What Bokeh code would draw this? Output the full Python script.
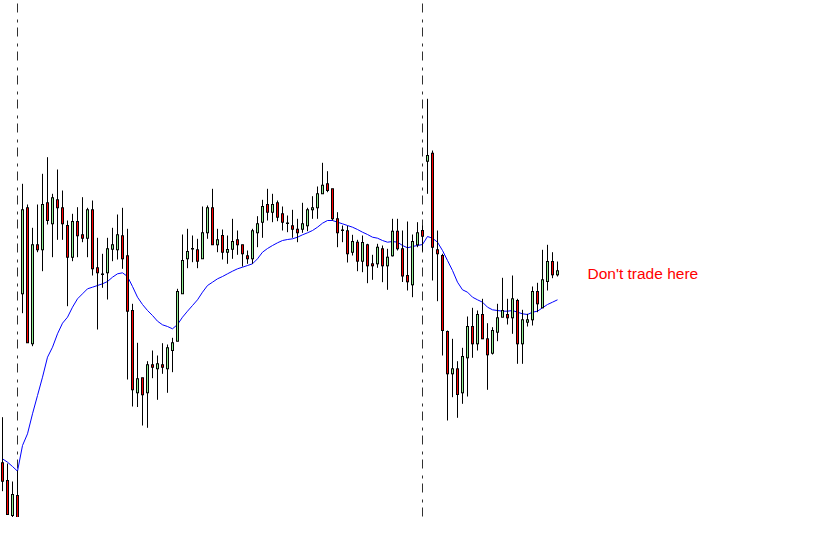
from bokeh.plotting import figure
from bokeh.models import ColumnDataSource, Range1d, Label
from bokeh.embed import file_html
from bokeh.resources import INLINE

# ---- data (price units) ----
opens = [70.7, 53, 18, 38, 239.7, 325.7, 189.7, 288.7, 283.7, 330.7,
         309.7, 333.7, 325.7, 308, 276.3, 312, 298.7, 295.3, 323.7, 265.7,
         259, 260.7, 284.3, 283.7, 297.7, 277.7, 223, 140.7, 155.7, 140.7,
         168.7, 164.7, 168.7, 164.7, 183, 192.3, 239.7, 274.7, 284.5, 283.7,
         274.7, 300.7, 325.7, 288.7, 298, 281.3, 284.3, 293.7, 288.7, 277.7,
         274.7, 300.7, 311.3, 329, 321.3, 330.7, 319.7, 310.5, 307.7, 304.3,
         304.3, 307.7, 323.7, 325.7, 339.7, 349.7, 344.7, 314.7, 303.5, 302.7,
         281.3, 291.3, 272.3, 288.7, 269.7, 269.7, 284.7, 267.7, 277.7, 302.3,
         284.7, 258, 248.7, 288.7, 303, 372.3, 380.3, 283.7, 278, 202,
         159.7, 164.7, 140.7, 175.7, 207, 189.7, 219, 194.7, 180.3, 201.3,
         216.3, 219, 215.7, 233, 189.7, 211.3, 213.7, 242, 225.7, 252,
         272, 258.7]
highs = [116.3, 70, 52, 63, 349.7, 329, 305.7, 329, 359.7, 376.3,
         339.7, 364, 343, 313, 319.7, 326.3, 336.3, 325.7, 333, 295.7,
         279.7, 295.7, 305.7, 319, 325.7, 304.7, 229.7, 190.7, 155.7, 172.3,
         183, 178, 190.3, 189, 195.7, 244.7, 299, 304.7, 298, 294.7,
         327, 328, 344.7, 304.7, 304, 298, 314.7, 303, 288.7, 283,
         304.7, 317.3, 333.7, 344.7, 339.7, 333, 327, 318, 323.7, 314.7,
         330.7, 325.7, 337.3, 347, 370.7, 362.3, 344.7, 321.3, 308, 307.7,
         298.7, 293.7, 298, 289.7, 278.7, 289.7, 288, 284.7, 314.7, 314.7,
         303, 312, 299, 311.3, 308, 434.7, 383, 303, 279.7, 203,
         194.7, 172.3, 185.7, 217, 225.7, 223, 234.7, 210.3, 206.3, 229.7,
         255.7, 234.7, 258, 234.7, 223.7, 219.7, 247, 250.7, 283.7, 288.7,
         281.3, 272]
lows = [42.3, 19, 16, 3, 220.3, 190.7, 187.3, 281.3, 262.3, 309,
        276.3, 293.7, 293.7, 227.3, 272.3, 276.3, 291.3, 276.3, 258, 204,
        245.7, 234, 272.3, 274, 264.7, 154, 127, 126.5, 108, 105.7,
        155.3, 133.7, 159.7, 140.7, 161.3, 192.3, 239.7, 265.3, 271.3, 265.3,
        274.7, 294.7, 288.7, 281.3, 274, 269.7, 274.7, 278.7, 267, 269.7,
        269.7, 286.3, 295.7, 313, 311.3, 312.3, 303, 301.3, 295.7, 291.3,
        300.7, 302.3, 314.7, 314.7, 339.7, 341.3, 313, 286.3, 291.3, 271,
        278, 262.3, 261.3, 250.3, 253.7, 265.7, 251.3, 243.7, 277, 283,
        251.5, 243, 236.3, 286.3, 282.3, 339.7, 253, 232.3, 178, 113,
        136.3, 115.7, 129.7, 137, 175.7, 183, 194.7, 143.7, 179, 192.3,
        216.3, 209, 199.7, 169.7, 169.7, 207, 208, 221.3, 225.7, 243,
        255.3, 257]
closes = [52.3, 19, 39, 15, 323.7, 190.7, 288.7, 283.7, 329, 313,
          335.7, 325.7, 309.7, 276.3, 312, 297.7, 295.3, 323.7, 264.7, 260.7,
          259.5, 284.7, 288.7, 298.7, 274.7, 222.3, 143.7, 154.7, 138.7, 168.7,
          166.3, 169.7, 166.3, 185.7, 190.7, 242, 273, 282, 285, 272.3,
          300.7, 325.7, 288.7, 293.7, 281.3, 284, 292, 288.7, 279.7, 274.7,
          302.7, 309.7, 327, 321.3, 329, 316.3, 311.3, 310, 304.3, 300.7,
          309.7, 323.7, 325.7, 339.7, 348.3, 343, 314.7, 300.7, 303, 279.7,
          292, 272.3, 291, 267.7, 267.7, 286.3, 267.7, 276.3, 302.3, 284.7,
          257.5, 251.7, 292, 300.7, 297.3, 378, 286.3, 279.7, 203, 159.7,
          164.7, 139, 177, 207, 189.7, 219, 194.7, 178.7, 203, 215.7,
          223, 215.7, 234.7, 189.7, 213.7, 213.7, 242, 229.7, 253.7, 272,
          258.7, 262.7]
moving_avg = [74.7, 71.3, 67, 62.3, 88, 99.7, 119.7, 138, 156.3, 176.3,
              186.3, 199.7, 210.3, 216.3, 226.3, 234.7, 239.7, 244.7, 246.3, 248,
              249.7, 252, 256.3, 259.7, 260.7, 257, 247, 236.3, 229, 223,
              218, 212.3, 208.7, 207, 204.7, 209, 216.3, 222.3, 228, 233.7,
              241.3, 248, 251.3, 254.7, 257, 259.7, 262.3, 264.7, 266.3, 268,
              269.7, 274.7, 281.3, 285, 288, 290.7, 293, 294, 294.7, 296.3,
              298.7, 300.7, 303, 306.3, 310.3, 313, 313, 311.3, 309.7, 308,
              306.3, 304, 301.3, 299, 296.3, 295.3, 293, 291.3, 292, 291.3,
              288, 285.7, 287, 288, 289, 297, 295.3, 291.3, 283, 273,
              263, 251.3, 243.7, 241.3, 236.3, 233.7, 231.3, 226.3, 223.7, 223,
              222.3, 222.3, 223, 221.3, 219.7, 219, 221.3, 222.3, 225.7, 229,
              231.3, 233.7]
session_marks = [3, 84]
note_text = "Don't trade here"
note_index = 117.0
note_price = 260

idx = list(range(len(opens)))
up = [c >= o for o, c in zip(opens, closes)]
body_top = [max(o, c) for o, c in zip(opens, closes)]
body_bot = [min(o, c) for o, c in zip(opens, closes)]
src = ColumnDataSource(dict(
    x=idx, h=highs, l=lows,
    otop=[t + 0.5 for t in body_top],
    obot=[b - 0.5 for b in body_bot],
    itop=[max(t - 0.5, b + 0.5) for t, b in zip(body_top, body_bot)],
    ibot=[b + 0.5 for b in body_bot],
    color=["#90ee90" if u else "#ff0000" for u in up],
))

p = figure(width=798, height=517, output_backend="svg", toolbar_location=None,
           x_range=Range1d(-0.4, 159.2), y_range=Range1d(16, 533),
           min_border=0, border_fill_color="white", background_fill_color="white")
p.axis.visible = False
p.grid.visible = False
p.outline_line_color = None

# session separators
p.segment(x0=session_marks, x1=session_marks, y0=[540] * 2, y1=[-20] * 2,
          line_color="#303030", line_width=1, line_dash="9 7 3 5", line_dash_offset=14)

p.line(idx, moving_avg, line_color="#0000ff", line_width=1)

p.segment(x0="x", x1="x", y0="h", y1="l", source=src, line_color="black", line_width=1)
p.vbar(x="x", width=0.6, top="otop", bottom="obot", source=src,
       fill_color="black", line_color=None)
p.vbar(x="x", width=0.2, top="itop", bottom="ibot", source=src,
       fill_color="color", line_color=None)

p.add_layout(Label(x=note_index, y=note_price, text=note_text, text_color="#ff0000",
                   text_font="Liberation Sans", text_font_size="15.5px",
                   text_baseline="alphabetic", text_align="left"))

open("out.html", "w").write(file_html(p, INLINE))
